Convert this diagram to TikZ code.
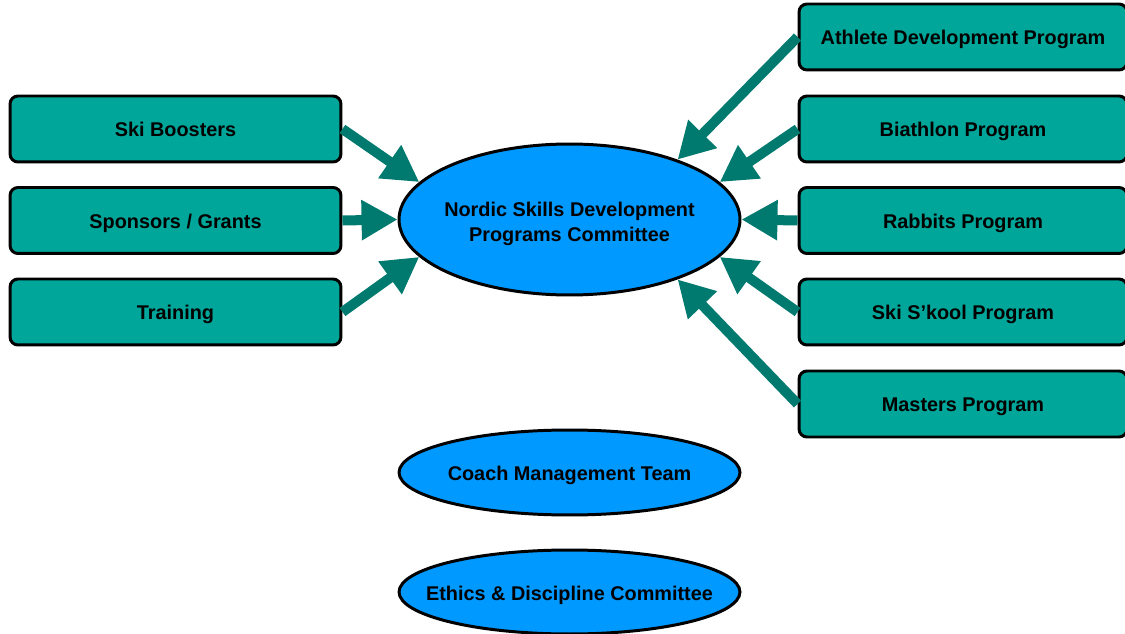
\documentclass[tikz,border=0pt]{standalone}
\usepackage{fontspec}
\setmainfont{Liberation Sans}
\usetikzlibrary{shapes.geometric,arrows.meta}
\definecolor{boxteal}{RGB}{0,166,153}
\definecolor{arrteal}{RGB}{0,122,110}
\definecolor{ellblue}{RGB}{0,153,255}
\begin{document}
\begin{tikzpicture}[x=0.02cm,y=-0.02cm,
  lbl/.style={font=\fontsize{11.3}{14}\selectfont\bfseries},
  progbox/.style={draw=black,line width=1.7pt,rounded corners=0.16cm,fill=boxteal,
    minimum width=6.62cm,minimum height=1.32cm,inner sep=0pt,lbl,
    text height=0.9em,text depth=0pt},
  rprogbox/.style={progbox,minimum width=6.56cm},
  comm/.style={draw=black,line width=1.7pt,ellipse,fill=ellblue,inner sep=0pt,
    minimum width=6.82cm},
  ctext/.style 2 args={label={[lbl,align=center,yshift=#1]center:#2}},
  feed/.style={draw=arrteal,line width=5.7pt,-{Triangle[length=0.72cm,width=0.76cm]}}]
\useasboundingbox (0,0) rectangle (1125,634);
% left boxes
\node[progbox] (sb) at (175.5,129) {Ski Boosters};
\node[progbox] (sg) at (175.5,220.5) {Sponsors / Grants};
\node[progbox] (tr) at (175.5,312) {Training};
% right boxes
\node[rprogbox] (ad) at (963,37) {Athlete Development Program};
\node[rprogbox] (bp) at (963,129) {Biathlon Program};
\node[rprogbox] (rp) at (963,220.5) {Rabbits Program};
\node[rprogbox] (ss) at (963,312) {Ski S’kool Program};
\node[rprogbox] (mp) at (963,404) {Masters Program};
% ellipses
\node[comm,minimum height=3.02cm,ctext={-0.09cm}{Nordic Skills Development\\Programs Committee}] (main) at (569.5,219.5) {};
\node[comm,minimum height=1.7cm,ctext={-0.05cm}{Coach Management Team}] (coach) at (569.5,472.5) {};
\node[comm,minimum height=1.68cm,ctext={-0.07cm}{Ethics \& Discipline Committee}] (ethics) at (569.5,592) {};
% arrows
\draw[feed] (sb.east) -- (main.166);
\draw[feed] (sg.east) -- (main.west);
\draw[feed] (tr.east) -- (main.194);
\draw[feed] (ad.west) -- (main.29);
\draw[feed] (bp.west) -- (main.14);
\draw[feed] (rp.west) -- (main.east);
\draw[feed] (ss.west) -- (main.346);
\draw[feed] (mp.west) -- (main.331);
\end{tikzpicture}
\end{document}
